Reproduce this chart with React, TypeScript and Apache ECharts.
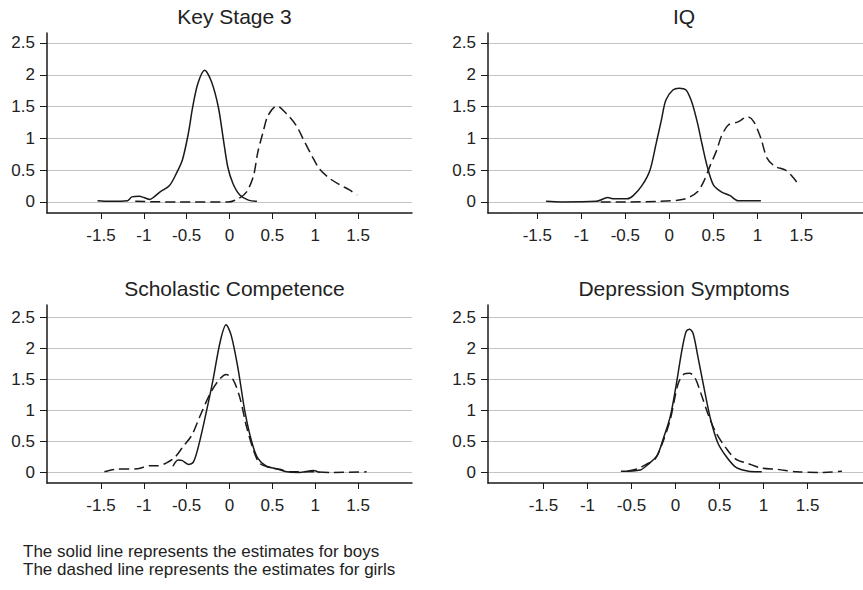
import React, { useEffect, useRef } from "react";
import * as echarts from "echarts";

const panelTitles = ["Key Stage 3", "IQ", "Scholastic Competence", "Depression Symptoms"];
const xTickValues = [-1.5, -1, -0.5, 0, 0.5, 1, 1.5];
const yTickValues = [0, 0.5, 1, 1.5, 2, 2.5];
const footnotes = [
  "The solid line represents the estimates for boys",
  "The dashed line represents the estimates for girls",
];

// Key Stage 3
const ks3Boys = [
  [-1.54, 0.02], [-1.4, 0.01], [-1.19, 0.02], [-1.14, 0.08], [-1.05, 0.09], [-1.0, 0.07],
  [-0.93, 0.04], [-0.88, 0.08], [-0.81, 0.16], [-0.7, 0.26], [-0.62, 0.45], [-0.55, 0.66],
  [-0.48, 1.08], [-0.43, 1.49], [-0.37, 1.86], [-0.29, 2.07], [-0.21, 1.89], [-0.13, 1.49],
  [-0.07, 0.97], [-0.02, 0.55], [0.04, 0.29], [0.12, 0.11], [0.22, 0.03], [0.32, 0.01],
];
const ks3Girls = [
  [-1.1, 0.01], [-0.6, 0.0], [-0.02, 0.0], [0.1, 0.05], [0.2, 0.16], [0.28, 0.41], [0.33, 0.78],
  [0.39, 1.09], [0.45, 1.36], [0.55, 1.51], [0.67, 1.38], [0.78, 1.2], [0.86, 0.99],
  [0.96, 0.73], [1.05, 0.52], [1.17, 0.37], [1.29, 0.27], [1.4, 0.19], [1.49, 0.11],
];

// IQ
const iqBoys = [
  [-1.4, 0.01], [-1.23, 0.0], [-0.83, 0.01], [-0.7, 0.07], [-0.63, 0.05], [-0.48, 0.05],
  [-0.41, 0.1], [-0.31, 0.26], [-0.22, 0.5], [-0.15, 0.92], [-0.09, 1.29], [-0.04, 1.6],
  [0.04, 1.76], [0.11, 1.79], [0.19, 1.76], [0.26, 1.55], [0.32, 1.24], [0.37, 0.92],
  [0.43, 0.56], [0.5, 0.27], [0.59, 0.16], [0.69, 0.1], [0.78, 0.02], [0.89, 0.02], [1.04, 0.02],
];
const iqGirls = [
  [-0.78, 0.0], [-0.48, 0.0], [-0.11, 0.01], [0.11, 0.03], [0.22, 0.07], [0.32, 0.16],
  [0.39, 0.32], [0.46, 0.56], [0.54, 0.82], [0.59, 1.03], [0.67, 1.21], [0.78, 1.26],
  [0.89, 1.34], [0.96, 1.26], [1.04, 1.0], [1.11, 0.69], [1.2, 0.56], [1.32, 0.5],
  [1.41, 0.38], [1.48, 0.25],
];

// Scholastic Competence
const scBoys = [
  [-0.66, 0.1], [-0.6, 0.2], [-0.55, 0.19], [-0.48, 0.13], [-0.42, 0.17], [-0.35, 0.49],
  [-0.27, 0.98], [-0.19, 1.51], [-0.11, 2.1], [-0.04, 2.38], [0.02, 2.21], [0.1, 1.67],
  [0.18, 0.98], [0.26, 0.49], [0.33, 0.23], [0.43, 0.1], [0.55, 0.06], [0.67, 0.01],
  [0.81, 0.0], [0.98, 0.03], [1.05, 0.0],
];
const scGirls = [
  [-1.46, 0.01], [-1.34, 0.05], [-1.07, 0.06], [-0.93, 0.11], [-0.83, 0.11], [-0.74, 0.15],
  [-0.64, 0.24], [-0.54, 0.42], [-0.44, 0.6], [-0.35, 0.89], [-0.23, 1.26], [-0.13, 1.48],
  [-0.04, 1.58], [0.04, 1.5], [0.12, 1.21], [0.2, 0.73], [0.28, 0.36], [0.35, 0.15],
  [0.47, 0.08], [0.59, 0.05], [0.7, 0.01], [0.98, 0.01], [1.21, 0.0], [1.6, 0.01],
];

// Depression Symptoms
const dsBoys = [
  [-0.62, 0.02], [-0.4, 0.04], [-0.32, 0.12], [-0.21, 0.27], [-0.14, 0.54], [-0.06, 0.9],
  [0.01, 1.43], [0.07, 1.95], [0.12, 2.27], [0.16, 2.31], [0.2, 2.24], [0.25, 1.9],
  [0.33, 1.32], [0.4, 0.85], [0.48, 0.48], [0.57, 0.27], [0.68, 0.09], [0.79, 0.03],
  [0.9, 0.01], [0.98, 0.01],
];
const dsGirls = [
  [-0.55, 0.02], [-0.43, 0.06], [-0.32, 0.14], [-0.23, 0.22], [-0.16, 0.43], [-0.06, 0.85],
  [0.03, 1.43], [0.1, 1.59], [0.16, 1.6], [0.22, 1.53], [0.29, 1.27], [0.38, 0.9],
  [0.46, 0.64], [0.57, 0.4], [0.68, 0.22], [0.83, 0.14], [0.98, 0.07], [1.16, 0.05],
  [1.38, 0.01], [1.68, 0.0], [1.89, 0.02],
];

const boysSeries = [ks3Boys, iqBoys, scBoys, dsBoys];
const girlsSeries = [ks3Girls, iqGirls, scGirls, dsGirls];

export default function App() {
  const ref = useRef<HTMLDivElement>(null);
  useEffect(() => {
    if (!ref.current) return;
    const chart = echarts.init(ref.current, null, { renderer: "svg" });
    const font = "'Liberation Sans', Arial, Helvetica, sans-serif";
    const ink = "#1a1a1a";
    const grids = [
      { left: 47, top: 33, width: 365, height: 180 },
      { left: 488, top: 33, width: 382, height: 180 },
      { left: 47, top: 305, width: 365, height: 178 },
      { left: 488, top: 305, width: 382, height: 178 },
    ];
    const xRanges = [
      [-2.13, 2.13],
      [-2.06, 2.2],
      [-2.13, 2.13],
      [-2.13, 2.13],
    ];
    const yRanges = [
      [-0.173, 2.657],
      [-0.173, 2.657],
      [-0.17, 2.7],
      [-0.17, 2.7],
    ];
    const xAxis = grids.map((_, i) => ({
      type: "value",
      gridIndex: i,
      min: xRanges[i][0],
      max: xRanges[i][1],
      axisLine: { onZero: false, lineStyle: { color: ink, width: 1.5 } },
      axisTick: { show: true, length: 6, customValues: xTickValues, lineStyle: { color: ink, width: 1 } },
      axisLabel: {
        customValues: xTickValues,
        margin: 14,
        fontSize: 17,
        fontFamily: font,
        color: "#222",
      },
      splitLine: { show: false },
    }));
    const yAxis = grids.map((_, i) => ({
      type: "value",
      gridIndex: i,
      min: yRanges[i][0],
      max: yRanges[i][1],
      axisLine: { show: true, onZero: false, lineStyle: { color: ink, width: 1.5 } },
      axisTick: { show: true, length: 7, customValues: yTickValues, lineStyle: { color: ink, width: 1 } },
      axisLabel: {
        customValues: yTickValues,
        margin: 12,
        fontSize: 17,
        fontFamily: font,
        color: "#222",
      },
      splitLine: { show: true, lineStyle: { color: "#c4c4c4", width: 1 } },
    }));
    const series: any[] = [];
    for (let i = 0; i < 4; i++) {
      series.push({
        type: "line",
        xAxisIndex: i,
        yAxisIndex: i,
        data: boysSeries[i],
        showSymbol: false,
        smooth: 0.3,
        lineStyle: { color: ink, width: 1.5, type: "solid" },
        z: 3,
      });
      series.push({
        type: "line",
        xAxisIndex: i,
        yAxisIndex: i,
        data: girlsSeries[i],
        showSymbol: false,
        smooth: 0.3,
        lineStyle: { color: ink, width: 1.5, type: [10, 5] },
        z: 3,
      });
    }
    const titles = panelTitles.map((t, i) => ({
      text: t,
      left: grids[i].left + grids[i].width / 2,
      top: grids[i].top - 33 + 1,
      textAlign: "center",
      textStyle: { fontSize: 21, fontWeight: "normal", fontFamily: font, color: "#222" },
    }));
    chart.setOption({
      animation: false,
      backgroundColor: "#fff",
      title: titles,
      grid: grids,
      xAxis,
      yAxis,
      series,
      graphic: footnotes.map((t, i) => ({
        type: "text",
        left: 23,
        top: 543 + i * 18,
        style: { text: t, fontSize: 17, fontFamily: font, fill: "#222" },
      })),
    });
    return () => chart.dispose();
  }, []);
  return (
    <div
      ref={ref}
      style={{ position: "absolute", left: 0, top: 0, width: 863, height: 590 }}
    />
  );
}
